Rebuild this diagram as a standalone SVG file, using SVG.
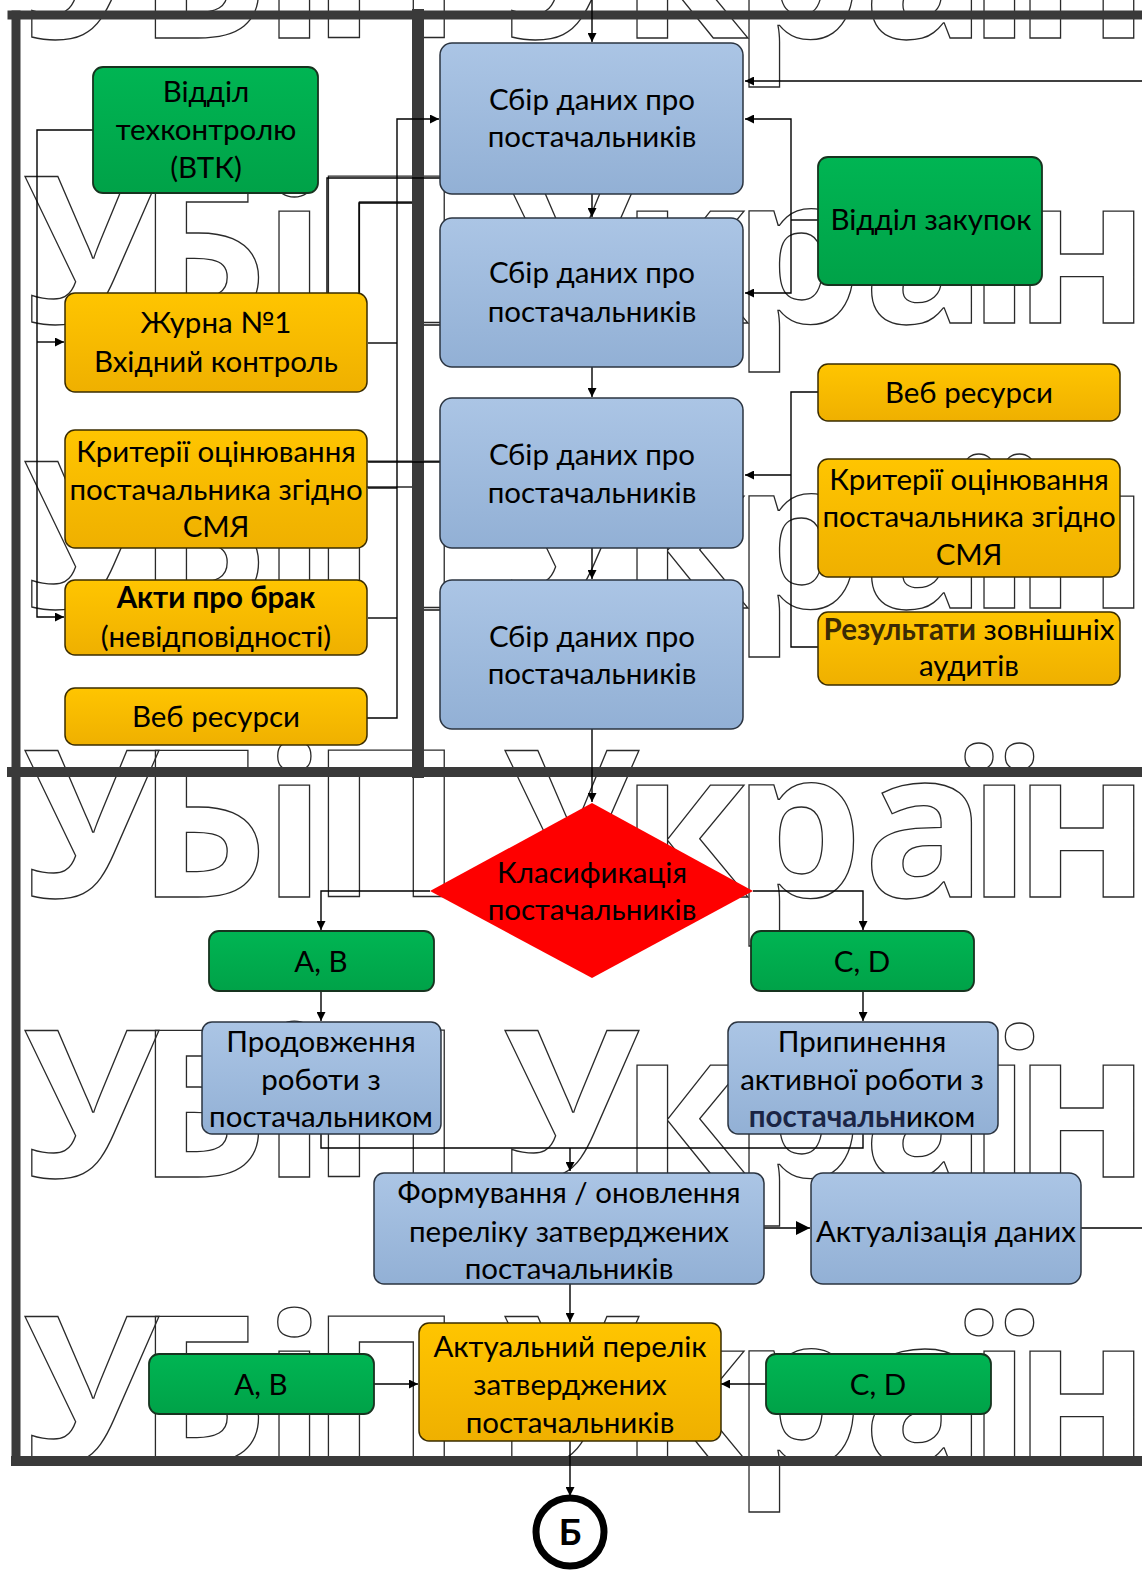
<svg xmlns="http://www.w3.org/2000/svg" width="1142" height="1572" viewBox="0 0 1142 1572">
<style>
.wm{font-family:"Open Sans","Noto Sans",sans-serif;font-size:205px;font-weight:700;fill:none;stroke:#2a2a2a;stroke-width:1.3}
.frame{fill:none;stroke:#3a3a3a;stroke-width:9;stroke-linecap:square}
.c{fill:none;stroke:#000;stroke-width:1.4}
.t{font-family:Lato,"Open Sans","Noto Sans",sans-serif;font-size:29.5px;text-anchor:middle;fill:#000}
.blue{fill:url(#gBlue);stroke:#2b3440;stroke-width:1.5}
.green{fill:url(#gGreen);stroke:#17331f;stroke-width:1.8}
.orange{fill:url(#gOrange);stroke:#3a2c00;stroke-width:1.5}
</style>
<defs>
<linearGradient id="gBlue" x1="0" y1="0" x2="0" y2="1"><stop offset="0" stop-color="#abc5e5"/><stop offset="1" stop-color="#92b0d5"/></linearGradient>
<linearGradient id="gGreen" x1="0" y1="0" x2="0" y2="1"><stop offset="0" stop-color="#00b553"/><stop offset="1" stop-color="#00a248"/></linearGradient>
<linearGradient id="gOrange" x1="0" y1="0" x2="0" y2="1"><stop offset="0" stop-color="#ffc500"/><stop offset="1" stop-color="#efb000"/></linearGradient>
<marker id="ah" viewBox="0 0 10 10" refX="10" refY="5" markerWidth="9" markerHeight="9" markerUnits="userSpaceOnUse" orient="auto"><path d="M0,0 L10,5 L0,10 z" fill="#000"/></marker>
<marker id="ahL" viewBox="0 0 10 10" refX="10" refY="5" markerWidth="14" markerHeight="14" markerUnits="userSpaceOnUse" orient="auto"><path d="M0,0 L10,5 L0,10 z" fill="#000"/></marker>
</defs>
<rect width="1142" height="1572" fill="#fff"/>
<g id="watermark">
<text class="wm" x="-140 23 137 263 310 460 503 621 733 863 968 1014 1160" y="38">НУБіП України</text>
<text class="wm" x="-140 23 137 263 310 460 503 621 733 863 968 1014 1160" y="323">НУБіП України</text>
<text class="wm" x="-140 23 137 263 310 460 503 621 733 863 968 1014 1160" y="608">НУБіП України</text>
<text class="wm" x="-140 23 137 263 310 460 503 621 733 863 968 1014 1160" y="897">НУБіП України</text>
<text class="wm" x="-140 23 137 263 310 460 503 621 733 863 968 1014 1160" y="1177">НУБіП України</text>
<text class="wm" x="-140 23 137 263 310 460 503 621 733 863 968 1014 1160" y="1463">НУБіП України</text>
</g>
<g id="frames">
<path class="frame" d="M12,15 H1142"/>
<path class="frame" d="M16,15 V1461"/>
<path class="frame" d="M418,15 V772" style="stroke-width:12"/>
<path class="frame" d="M12,772 H1142" style="stroke-width:10"/>
<path class="frame" d="M16,1461 H1142" style="stroke-width:10"/>
</g>
<g id="connectors">
<path class="c" d="M93,130 H37 V617 H64" marker-end="url(#ah)"/>
<path class="c" d="M37,342 H64" marker-end="url(#ah)"/>
<path class="c" d="M327,293 V178 H440"/>
<path class="c" d="M359,293 V203 H412"/>
<path class="c" d="M368,343 H397"/>
<path class="c" d="M368,462 H440"/>
<path class="c" d="M368,488 H397"/>
<path class="c" d="M368,618 H397"/>
<path class="c" d="M366,718 H397 V119 H439" marker-end="url(#ah)"/>
<path class="c" d="M424,325 H440"/>
<path class="c" d="M424,610 H440"/>
<path class="c" d="M1142,81 H745" marker-end="url(#ah)"/>
<path class="c" d="M791,206 V119 H745" marker-end="url(#ah)"/>
<path class="c" d="M791,206 V293 H745" marker-end="url(#ah)"/>
<path class="c" d="M818,220 H791"/>
<path class="c" d="M819,392 H791 V647 H819"/>
<path class="c" d="M791,475 H745" marker-end="url(#ah)"/>
<path class="c" d="M592,0 V42" marker-end="url(#ah)"/>
<path class="c" d="M592,194 V217" marker-end="url(#ah)"/>
<path class="c" d="M592,367 V397" marker-end="url(#ah)"/>
<path class="c" d="M592,548 V579" marker-end="url(#ah)"/>
<path class="c" d="M592,729 V802" marker-end="url(#ah)"/>
<path class="c" d="M430,891 H321 V930" marker-end="url(#ah)"/>
<path class="c" d="M753,891 H863 V930" marker-end="url(#ah)"/>
<path class="c" d="M321,991 V1021" marker-end="url(#ah)"/>
<path class="c" d="M863,991 V1021" marker-end="url(#ah)"/>
<path class="c" d="M321,1134 V1148 H863 V1134"/>
<path class="c" d="M570,1148 V1171" marker-end="url(#ah)"/>
<path class="c" d="M764,1228 H810" marker-end="url(#ahL)"/>
<path class="c" d="M1081,1228 H1142"/>
<path class="c" d="M570,1284 V1322" marker-end="url(#ah)"/>
<path class="c" d="M374,1384 H418" marker-end="url(#ah)"/>
<path class="c" d="M766,1384 H721" marker-end="url(#ah)"/>
<path class="c" d="M570,1441 V1496" marker-end="url(#ah)"/>
</g>
<g id="n-vtk"><rect class="green" x="93" y="67" width="225" height="126" rx="10"/><text class="t" x="206" y="102">Відділ</text><text class="t" x="206" y="140">техконтролю</text><text class="t" x="206" y="178">(ВТК)</text></g>
<g id="n-zhurnal"><rect class="orange" x="65" y="293" width="302" height="99" rx="10"/><text class="t" x="216" y="333">Журна №1</text><text class="t" x="216" y="372">Вхідний контроль</text></g>
<g id="n-kryterii-l"><rect class="orange" x="65" y="430" width="302" height="118" rx="10"/><text class="t" x="216" y="462">Критерії оцінювання</text><text class="t" x="216" y="500">постачальника згідно</text><text class="t" x="216" y="537">СМЯ</text></g>
<g id="n-akty"><rect class="orange" x="65" y="580" width="302" height="75" rx="10"/><text class="t" x="216" y="608" font-weight="bold" fill="#3b2a05">Акти про брак</text><text class="t" x="216" y="647">(невідповідності)</text></g>
<g id="n-web-l"><rect class="orange" x="65" y="688" width="302" height="57" rx="10"/><text class="t" x="216" y="727">Веб ресурси</text></g>
<g id="n-sbir1"><rect class="blue" x="440" y="43" width="303" height="151" rx="12"/><text class="t" x="592" y="110">Сбір даних про</text><text class="t" x="592" y="147">постачальників</text></g>
<g id="n-sbir2"><rect class="blue" x="440" y="218" width="303" height="149" rx="12"/><text class="t" x="592" y="283">Сбір даних про</text><text class="t" x="592" y="322">постачальників</text></g>
<g id="n-sbir3"><rect class="blue" x="440" y="398" width="303" height="150" rx="12"/><text class="t" x="592" y="465">Сбір даних про</text><text class="t" x="592" y="503">постачальників</text></g>
<g id="n-sbir4"><rect class="blue" x="440" y="580" width="303" height="149" rx="12"/><text class="t" x="592" y="647">Сбір даних про</text><text class="t" x="592" y="684">постачальників</text></g>
<g id="n-zakupok"><rect class="green" x="818" y="157" width="224" height="128" rx="10"/><text class="t" x="931" y="230">Відділ закупок</text></g>
<g id="n-web-r"><rect class="orange" x="818" y="364" width="302" height="57" rx="10"/><text class="t" x="969" y="403">Веб ресурси</text></g>
<g id="n-kryterii-r"><rect class="orange" x="818" y="459" width="302" height="118" rx="10"/><text class="t" x="969" y="490">Критерії оцінювання</text><text class="t" x="969" y="527">постачальника згідно</text><text class="t" x="969" y="565">СМЯ</text></g>
<g id="n-audit"><rect class="orange" x="818" y="612" width="302" height="73" rx="10"/><text class="t" x="969" y="640"><tspan font-weight="bold" fill="#3b2a05">Результати</tspan> зовнішніх</text><text class="t" x="969" y="676">аудитів</text></g>
<g id="n-class"><polygon points="430,891 592,803 753,891 592,978" fill="#fe0000"/><text class="t" x="592" y="883">Класификація</text><text class="t" x="592" y="920">постачальників</text></g>
<g id="n-ab1"><rect class="green" x="209" y="931" width="225" height="60" rx="10"/><text class="t" x="321" y="972">A, B</text></g>
<g id="n-cd1"><rect class="green" x="751" y="931" width="223" height="60" rx="10"/><text class="t" x="862" y="972">C, D</text></g>
<g id="n-prodov"><rect class="blue" x="202" y="1022" width="239" height="112" rx="10"/><text class="t" x="321" y="1052">Продовження</text><text class="t" x="321" y="1090">роботи з</text><text class="t" x="321" y="1127">постачальником</text></g>
<g id="n-prypyn"><rect class="blue" x="728" y="1022" width="270" height="112" rx="10"/><text class="t" x="862" y="1052">Припинення</text><text class="t" x="862" y="1090">активної роботи з</text><text class="t" x="862" y="1127"><tspan font-weight="bold" fill="#1b2545">постачальн</tspan>иком</text></g>
<g id="n-form"><rect class="blue" x="374" y="1173" width="390" height="111" rx="10"/><text class="t" x="569" y="1203">Формування / оновлення</text><text class="t" x="569" y="1242">переліку затверджених</text><text class="t" x="569" y="1279">постачальників</text></g>
<g id="n-actual"><rect class="blue" x="811" y="1173" width="270" height="111" rx="12"/><text class="t" x="946" y="1242">Актуалізація даних</text></g>
<g id="n-list"><rect class="orange" x="419" y="1323" width="302" height="118" rx="10"/><text class="t" x="570" y="1357">Актуальний перелік</text><text class="t" x="570" y="1395">затверджених</text><text class="t" x="570" y="1433">постачальників</text></g>
<g id="n-ab2"><rect class="green" x="149" y="1354" width="225" height="60" rx="10"/><text class="t" x="261" y="1395">A, B</text></g>
<g id="n-cd2"><rect class="green" x="766" y="1354" width="225" height="60" rx="10"/><text class="t" x="878" y="1395">C, D</text></g>
<g id="n-b"><circle cx="570" cy="1532" r="34" fill="#fff" stroke="#000" stroke-width="7"/><text x="570" y="1545" text-anchor="middle" font-family="Lato,'Open Sans',sans-serif" font-size="36" font-weight="bold">Б</text></g>
</svg>
